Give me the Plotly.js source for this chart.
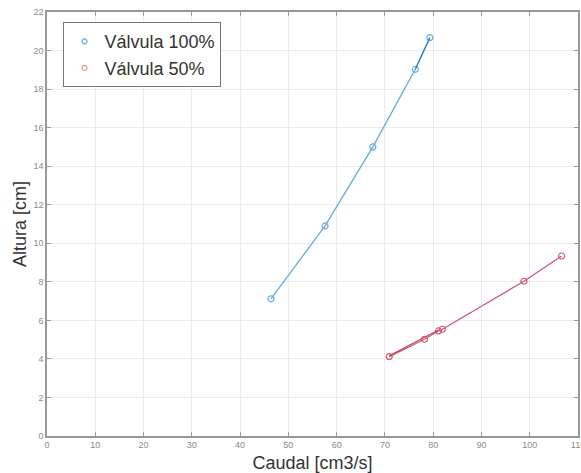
<!DOCTYPE html>
<html>
<head>
<meta charset="utf-8">
<script src="https://cdn.plot.ly/plotly-3.0.1.min.js"></script>
<style>html,body{margin:0;padding:0;background:#fff;}#chart{width:581px;height:473px;}</style>
</head>
<body>
<div id="chart"></div>
<script>
// Data
var seriesNames = ["Válvula 100%", "Válvula 50%"];
var caudal100 = [46.4, 57.6, 67.5, 76.3, 79.3];
var altura100 = [7.12, 10.9, 15.0, 19.03, 20.67];
var caudal50 = [70.9, 78.2, 81.1, 81.9, 98.8, 106.6];
var altura50 = [4.12, 5.02, 5.45, 5.54, 8.03, 9.34];
// second (darker) drawn segments
var seg100X = [76.3, 79.3];
var seg100Y = [19.03, 20.67];
var seg50X = [70.9, 81.1];
var seg50Y = [4.16, 5.5];
var xTicks = [0,10,20,30,40,50,60,70,80,90,100,110];
var yTicks = [0,2,4,6,8,10,12,14,16,18,20,22];

var blue = "#62acdf", blueDark = "#2c7fc4";
var red = "#c95a72", redDark = "#b8405c";

var traces = [
  {x: caudal100, y: altura100, mode: "lines+markers", showlegend: false,
   line: {color: blue, width: 1.3},
   marker: {symbol: "circle-open", size: 6, color: blue, line: {width: 1.2}}},
  {x: seg100X, y: seg100Y, mode: "lines", showlegend: false,
   line: {color: blueDark, width: 1.2}},
  {x: caudal50, y: altura50, mode: "lines+markers", showlegend: false,
   line: {color: red, width: 1.3},
   marker: {symbol: "circle-open", size: 6, color: red, line: {width: 1.2}}},
  {x: seg50X, y: seg50Y, mode: "lines", showlegend: false,
   line: {color: redDark, width: 1.1}},
  {x: [null], y: [null], mode: "markers", name: seriesNames[0],
   marker: {symbol: "circle-open", size: 5, color: "#5aaee8", line: {width: 1.2}}},
  {x: [null], y: [null], mode: "markers", name: seriesNames[1],
   marker: {symbol: "circle-open", size: 5, color: "#ee9a7a", line: {width: 1.2}}}
];

var axisCommon = {
  showline: true, linecolor: "#999", linewidth: 1.6, mirror: "ticks",
  ticks: "inside", ticklen: 4, tickcolor: "#999", tickwidth: 1,
  showgrid: true, gridcolor: "#ebebeb", gridwidth: 1, zeroline: false,
  tickfont: {family: "Liberation Sans, Arial, sans-serif", size: 9, color: "#8a8a8a"}
};

var layout = {
  width: 581, height: 473,
  margin: {l: 47, r: 3, t: 12, b: 37},
  paper_bgcolor: "#fff", plot_bgcolor: "#fff",
  font: {family: "Liberation Sans, Arial, sans-serif", color: "#333"},
  xaxis: Object.assign({}, axisCommon, {
    range: [0, 110], tickvals: xTicks, ticktext: xTicks.map(String),
    ticklabeloverflow: "allow",
    title: {text: "Caudal [cm3/s]", font: {size: 18, color: "#333"}, standoff: 8}
  }),
  yaxis: Object.assign({}, axisCommon, {
    range: [0, 22], tickvals: yTicks, ticktext: yTicks.map(String),
    title: {text: "Altura [cm]", font: {size: 18, color: "#333"}, standoff: 2}
  }),
  legend: {
    x: 0.031, y: 0.976, xanchor: "left", yanchor: "top",
    bgcolor: "#fff", bordercolor: "#777", borderwidth: 1,
    font: {size: 18, color: "#333"},
    itemwidth: 30, tracegroupgap: 0
  },
  showlegend: true
};

Plotly.newPlot("chart", traces, layout, {displayModeBar: false, staticPlot: true});
</script>
</body>
</html>
